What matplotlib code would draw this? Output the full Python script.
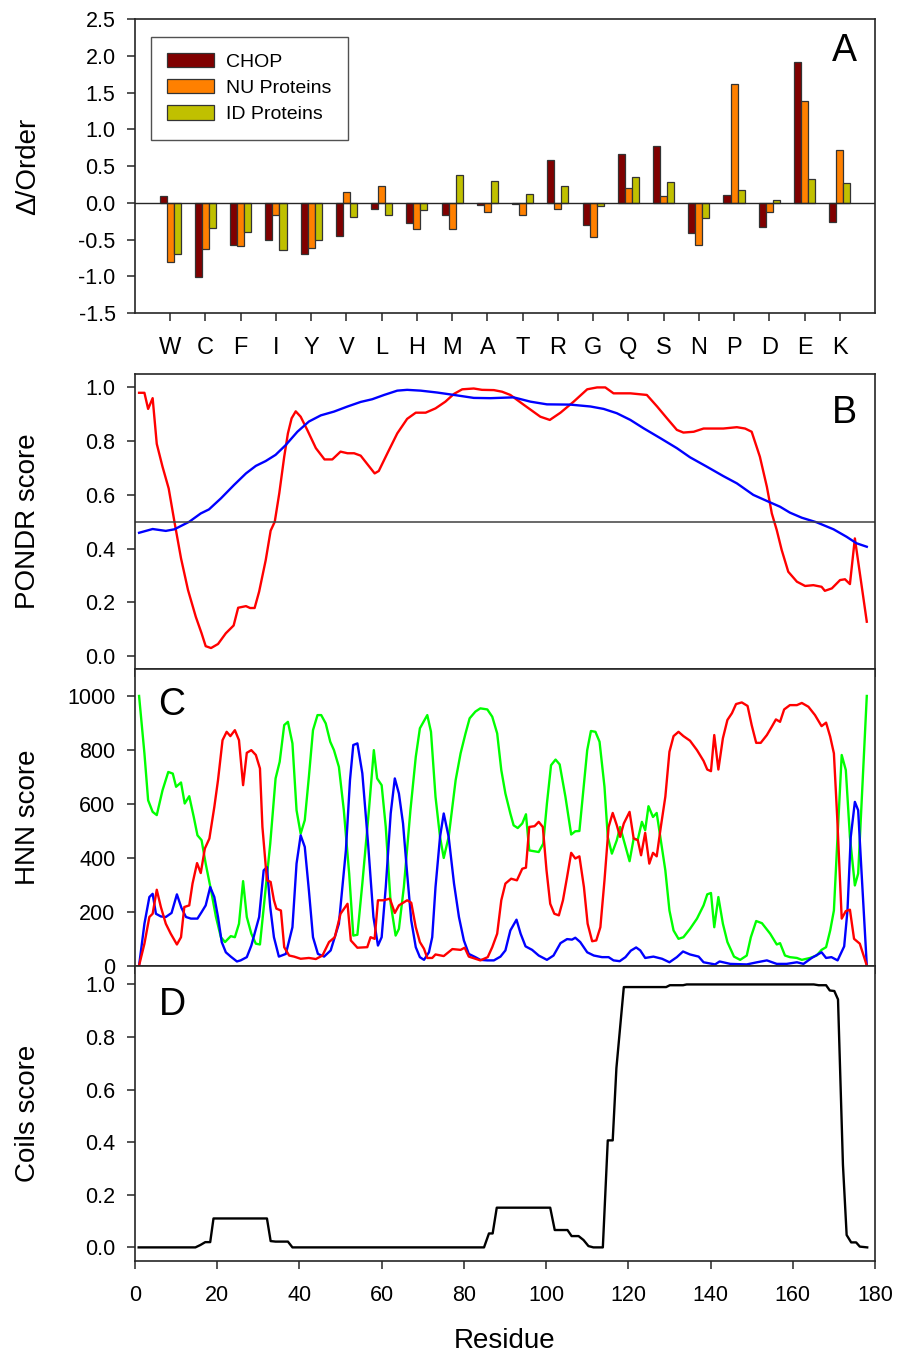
import numpy as np
from matplotlib import pyplot as plt


# Panel A: change in order propensity per amino acid
aminoAcids = ['W', 'C', 'F', 'I', 'Y', 'V', 'L', 'H', 'M', 'A',
              'T', 'R', 'G', 'Q', 'S', 'N', 'P', 'D', 'E', 'K']
chopValues = [0.09, -1.01, -0.57, -0.51, -0.70, -0.45, -0.08, -0.27, -0.17, -0.03,
              -0.01, 0.58, -0.30, 0.67, 0.77, -0.41, 0.10, -0.33, 1.91, -0.26]
nuValues = [-0.80, -0.63, -0.59, -0.17, -0.61, 0.14, 0.23, -0.36, -0.36, -0.13,
            -0.17, -0.09, -0.47, 0.20, 0.09, -0.57, 1.62, -0.13, 1.39, 0.72]
idValues = [-0.69, -0.34, -0.40, -0.64, -0.51, -0.19, -0.16, -0.10, 0.38, 0.29,
            0.12, 0.23, -0.05, 0.35, 0.28, -0.21, 0.17, 0.04, 0.33, 0.27]

# Panel B: PONDR scores
pondrRedRes = [1.0, 2.3, 3.2, 4.3, 5.3, 6.7, 8.2, 9.6, 11.2, 12.9, 14.8, 16.2, 17.2, 18.5, 20.2,
               22.1, 24.0, 25.1, 27.0, 28.0, 29.1, 30.2, 31.8, 33.0, 34.0, 35.1, 36.3, 37.2, 38.1,
               39.1, 40.3, 41.9, 44.0, 46.1, 48.0, 50.0, 51.7, 53.3, 54.9, 56.7, 58.3, 59.3, 61.4,
               63.8, 66.2, 68.3, 70.7, 73.1, 75.5, 77.6, 79.6, 82.4, 84.4, 87.3, 89.3, 91.3, 94.6,
               98.6, 100.9, 103.5, 106.7, 110.0, 112.4, 114.4, 116.4, 120.5, 124.5, 127.0, 129.4,
               131.8, 133.4, 135.9, 138.3, 143.1, 146.4, 148.4, 150.0, 152.0, 153.7, 154.9, 156.1,
               157.3, 158.9, 161.0, 163.0, 165.0, 167.0, 167.8, 169.5, 171.5, 172.7, 173.9, 175.1,
               178.0]
pondrRed = [0.98, 0.98, 0.92, 0.96, 0.79, 0.705, 0.624, 0.50, 0.364, 0.246, 0.146, 0.085, 0.037,
            0.03, 0.045, 0.085, 0.114, 0.18, 0.186, 0.179, 0.179, 0.24, 0.357, 0.467, 0.50, 0.606,
            0.742, 0.829, 0.885, 0.911, 0.891, 0.842, 0.774, 0.732, 0.732, 0.761, 0.755, 0.755,
            0.746, 0.711, 0.68, 0.689, 0.755, 0.829, 0.883, 0.906, 0.906, 0.922, 0.947, 0.976,
            0.993, 0.996, 0.991, 0.99, 0.984, 0.972, 0.935, 0.891, 0.879, 0.906, 0.947, 0.993, 1.0,
            1.0, 0.978, 0.978, 0.972, 0.929, 0.885, 0.842, 0.832, 0.835, 0.847, 0.847, 0.852,
            0.847, 0.835, 0.742, 0.63, 0.531, 0.469, 0.395, 0.314, 0.277, 0.261, 0.264, 0.258,
            0.243, 0.252, 0.283, 0.286, 0.268, 0.438, 0.128]
pondrBlueRes = [1.0, 4.3, 7.5, 9.6, 13.2, 16.0, 18.0, 20.9, 24.1, 27.0, 29.4, 31.8, 34.2, 36.7,
                39.5, 42.3, 45.2, 48.4, 51.7, 54.9, 57.7, 60.6, 63.8, 66.2, 69.5, 73.5, 77.6, 82.4,
                86.5, 92.1, 96.2, 100.2, 105.9, 110.8, 114.0, 117.2, 120.5, 123.7, 127.8, 131.8,
                135.0, 139.1, 143.1, 146.4, 150.4, 154.5, 156.9, 159.3, 162.2, 165.8, 169.9, 173.1,
                175.5, 178.0]
pondrBlue = [0.459, 0.473, 0.466, 0.472, 0.50, 0.531, 0.546, 0.587, 0.637, 0.68, 0.708, 0.726,
             0.749, 0.786, 0.835, 0.873, 0.896, 0.91, 0.929, 0.946, 0.956, 0.972, 0.988, 0.991,
             0.988, 0.981, 0.972, 0.961, 0.96, 0.963, 0.947, 0.937, 0.936, 0.929, 0.92, 0.904,
             0.879, 0.848, 0.811, 0.774, 0.74, 0.705, 0.67, 0.643, 0.60, 0.572, 0.556, 0.534,
             0.515, 0.498, 0.472, 0.444, 0.42, 0.407]

# Panel C: HNN secondary structure scores
hnnGreenRes = [1.0, 2.3, 3.2, 4.3, 5.3, 6.7, 8.1, 9.2, 10.0, 11.2, 12.1, 13.2, 14.3, 15.2, 16.2,
               17.2, 18.5, 19.7, 20.9, 21.9, 23.3, 24.3, 25.3, 26.3, 27.2, 28.3, 29.4, 30.4, 31.4,
               32.9, 34.2, 35.2, 36.3, 37.2, 38.3, 39.3, 40.3, 41.3, 42.3, 43.3, 44.4, 45.3, 46.4,
               47.5, 48.4, 49.6, 50.8, 52.1, 53.1, 54.1, 55.3, 56.9, 58.1, 58.9, 60.0, 61.0, 62.2,
               63.4, 64.2, 65.4, 67.0, 68.3, 69.3, 71.1, 72.0, 73.1, 74.2, 75.1, 76.3, 78.0, 79.2,
               80.4, 81.4, 82.8, 84.0, 85.7, 86.9, 88.1, 89.1, 90.1, 91.3, 92.1, 93.1, 94.2, 95.1,
               95.9, 98.2, 99.3, 100.2, 101.2, 102.3, 103.3, 104.7, 106.1, 107.1, 108.1, 109.2,
               110.0, 110.9, 112.0, 113.0, 114.2, 115.0, 116.0, 117.2, 118.0, 120.3, 121.3, 122.3,
               123.3, 124.1, 124.9, 126.0, 126.9, 127.9, 129.0, 130.0, 131.0, 132.2, 133.4, 135.0,
               136.7, 138.3, 139.2, 140.1, 140.9, 141.9, 143.0, 144.1, 145.7, 147.2, 148.8, 149.8,
               151.1, 152.5, 154.5, 156.1, 156.9, 158.1, 159.3, 161.0, 162.2, 164.2, 165.8, 167.0,
               168.1, 169.1, 170.0, 170.8, 171.9, 172.9, 173.9, 175.1, 175.9, 178.0]
hnnGreen = [1000, 787, 613, 570, 558, 650, 718, 712, 663, 679, 601, 628, 551, 483, 465, 378, 279,
            180, 105, 87, 109, 105, 155, 313, 180, 118, 81, 78, 229, 452, 694, 756, 892, 904, 824,
            576, 489, 539, 700, 873, 929, 929, 898, 830, 799, 737, 576, 341, 111, 114, 304, 576,
            799, 694, 669, 514, 229, 111, 136, 291, 576, 774, 880, 929, 867, 626, 477, 399, 477,
            688, 787, 861, 917, 942, 954, 950, 923, 861, 725, 638, 564, 520, 510, 527, 561, 427,
            421, 452, 601, 743, 764, 746, 626, 486, 498, 499, 675, 799, 870, 867, 830, 663, 477,
            415, 465, 514, 387, 471, 467, 533, 502, 591, 551, 566, 465, 353, 204, 130, 99, 105,
            136, 174, 223, 264, 269, 142, 254, 155, 87, 33, 21, 37, 105, 165, 157, 118, 78, 83,
            37, 31, 28, 21, 28, 37, 58, 68, 130, 204, 452, 781, 725, 477, 297, 341, 1000]
hnnRedRes = [1.0, 2.3, 3.5, 4.3, 5.3, 6.3, 7.5, 8.7, 10.2, 11.2, 12.0, 13.2, 14.0, 15.1, 16.0,
             17.0, 18.1, 19.3, 20.2, 21.3, 22.3, 23.2, 24.3, 25.3, 26.3, 27.2, 28.3, 29.4, 30.4,
             31.0, 32.1, 33.0, 33.8, 34.4, 35.5, 36.3, 37.5, 38.7, 40.3, 42.3, 44.0, 45.6, 47.2,
             48.6, 50.0, 51.7, 52.5, 54.1, 56.5, 57.3, 58.3, 59.1, 60.5, 62.0, 63.2, 64.2, 66.2,
             67.2, 68.3, 69.3, 70.3, 71.1, 72.3, 73.1, 75.1, 77.2, 79.2, 80.2, 81.2, 82.8, 84.0,
             85.8, 86.9, 88.1, 89.1, 90.1, 91.5, 92.9, 94.2, 95.1, 95.9, 97.2, 98.2, 99.2, 100.1,
             101.0, 102.0, 103.1, 104.1, 105.1, 106.1, 107.1, 108.1, 109.2, 110.1, 111.2, 112.2,
             113.2, 114.2, 115.2, 116.2, 117.2, 118.0, 118.9, 120.3, 121.3, 122.3, 123.1, 124.1,
             125.1, 126.0, 126.9, 127.9, 129.0, 130.0, 131.0, 132.2, 133.4, 135.0, 136.7, 138.3,
             139.2, 140.1, 140.9, 141.9, 143.0, 144.1, 145.2, 146.2, 147.6, 149.0, 150.0, 151.1,
             152.2, 153.7, 154.9, 155.9, 156.9, 157.9, 159.3, 161.0, 162.2, 163.8, 165.4, 167.0,
             168.1, 169.1, 170.0, 170.8, 171.9, 172.9, 173.9, 174.9, 176.3, 178.0]
hnnRed = [0, 81, 180, 192, 281, 217, 155, 118, 78, 105, 217, 223, 304, 380, 343, 434, 471, 588,
          688, 836, 867, 851, 873, 836, 669, 789, 799, 781, 731, 514, 316, 310, 242, 211, 204, 68,
          37, 33, 25, 28, 24, 37, 87, 105, 192, 229, 93, 66, 68, 105, 99, 242, 242, 248, 195, 223,
          242, 233, 142, 87, 62, 28, 28, 41, 35, 61, 58, 66, 33, 25, 19, 31, 68, 118, 242, 304,
          322, 316, 359, 363, 514, 517, 533, 514, 353, 229, 192, 186, 242, 328, 418, 397, 405,
          291, 155, 90, 93, 142, 316, 514, 566, 520, 477, 527, 570, 471, 465, 409, 492, 378, 418,
          405, 514, 626, 793, 851, 867, 851, 834, 799, 759, 727, 721, 855, 727, 843, 911, 936,
          970, 976, 963, 892, 826, 826, 855, 886, 913, 904, 950, 966, 966, 974, 960, 929, 888,
          901, 849, 787, 551, 174, 202, 207, 99, 81, 0]
hnnBlueRes = [1.0, 2.3, 3.5, 4.3, 5.1, 6.3, 7.5, 8.9, 10.2, 11.3, 12.4, 13.6, 15.2, 16.2, 17.2,
              18.3, 19.3, 20.2, 21.1, 22.1, 23.3, 24.8, 25.7, 27.2, 28.3, 30.2, 31.3, 32.1, 32.9,
              33.8, 35.0, 36.7, 38.3, 39.3, 40.3, 41.3, 42.3, 43.3, 44.5, 46.0, 47.6, 49.6, 51.3,
              52.3, 53.1, 54.1, 55.3, 56.7, 58.0, 59.1, 60.0, 61.0, 62.2, 63.2, 64.2, 65.2, 66.2,
              67.2, 68.3, 69.3, 70.3, 71.5, 72.3, 73.1, 74.2, 75.1, 76.3, 77.6, 78.8, 80.0, 81.2,
              82.8, 84.0, 85.7, 87.3, 88.9, 90.1, 91.3, 92.8, 93.8, 95.0, 96.6, 98.2, 100.2, 101.8,
              103.5, 105.1, 106.3, 107.1, 108.3, 110.0, 111.6, 113.6, 115.2, 116.4, 117.9, 119.3,
              120.6, 121.9, 122.9, 124.1, 126.1, 128.2, 130.0, 131.8, 133.3, 135.0, 137.1, 138.3,
              141.1, 142.2, 144.8, 148.8, 151.3, 153.7, 156.1, 158.5, 161.0, 162.6, 164.6, 167.0,
              168.1, 169.4, 170.9, 172.5, 173.3, 174.1, 175.1, 175.9, 176.7, 178.0]
hnnBlue = [0, 155, 254, 266, 192, 182, 180, 195, 264, 214, 180, 174, 174, 198, 223, 291, 254, 180,
           87, 49, 33, 15, 19, 31, 74, 180, 353, 365, 217, 105, 33, 43, 142, 378, 483, 440, 279,
           105, 43, 33, 56, 155, 427, 688, 818, 824, 713, 452, 180, 74, 105, 291, 564, 694, 638,
           527, 341, 167, 68, 31, 21, 49, 105, 291, 477, 564, 477, 304, 180, 93, 43, 31, 21, 19,
           19, 33, 56, 130, 170, 118, 71, 58, 37, 21, 37, 83, 98, 96, 103, 87, 49, 37, 31, 31,
           19, 16, 31, 55, 67, 56, 28, 33, 25, 12, 31, 52, 41, 33, 12, 4, 15, 6, 4, 12, 19, 6, 6,
           12, 6, 28, 49, 28, 31, 19, 71, 204, 477, 607, 576, 353, 0]

# Panel D: coiled coil score
coilsRes = [0.9, 14.7, 15.9, 17.1, 18.3, 19.1, 32.1, 33.0, 34.2, 37.2, 38.3, 84.9, 86.1, 87.0,
            88.0, 101.0, 102.1, 105.2, 106.2, 107.9, 109.1, 110.3, 111.5, 113.8, 115.0, 116.2,
            117.1, 118.9, 129.2, 130.1, 133.3, 134.2, 165.1, 166.3, 168.1, 169.0, 170.1, 171.0,
            172.2, 173.1, 174.2, 175.4, 176.3, 178.1]
coilsScore = [0, 0, 0.009, 0.02, 0.02, 0.11, 0.11, 0.024, 0.022, 0.022, 0, 0, 0.053, 0.053,
              0.151, 0.151, 0.066, 0.066, 0.043, 0.043, 0.028, 0.005, 0, 0, 0.407, 0.407, 0.682,
              0.99, 0.99, 0.997, 0.997, 1.0, 1.0, 0.997, 0.997, 0.977, 0.975, 0.943, 0.314, 0.047,
              0.019, 0.019, 0.003, 0]

plt.rcParams['font.family'] = ['Liberation Sans', 'DejaVu Sans']
spineColor = '#262626'
tickSize = 15.5
labelSize = 20
letterSize = 27


def styleAxes(ax):
    for spine in ax.spines.values():
        spine.set_color(spineColor)
        spine.set_linewidth(1.2)
    ax.tick_params(axis='both', direction='out', length=6, width=1.1, color=spineColor,
                   labelsize=tickSize, top=False, right=False)
    ax.tick_params(axis='y', pad=8)
    ax.tick_params(axis='x', pad=11)
    # label right edge sits around x=41px in the figure
    ax.yaxis.set_label_coords(-0.127, 0.5)


fig = plt.figure(figsize=(8.98, 13.57), dpi=100)
left, width = 0.1503, 0.8241

# ---- Panel A ----
axA = fig.add_axes([left, 0.7693, width, 0.2167])
x = np.arange(len(aminoAcids))
barW = 0.2
edge = dict(edgecolor='#333333', linewidth=0.9)
axA.bar(x - barW, chopValues, barW, color='#800000', label='CHOP', **edge)
axA.bar(x, nuValues, barW, color='#ff8000', label='NU Proteins', **edge)
axA.bar(x + barW, idValues, barW, color='#c0c000', label='ID Proteins', **edge)
axA.axhline(0, color=spineColor, linewidth=1.0)
axA.set_xlim(-1, 20)
axA.set_ylim(-1.5, 2.5)
axA.set_xticks(x)
axA.set_yticks(np.arange(-1.5, 2.51, 0.5))
axA.set_yticklabels(['%.1f' % v for v in np.arange(-1.5, 2.51, 0.5)])
axA.set_ylabel('\u0394/Order', fontsize=labelSize)
styleAxes(axA)
axA.set_xticklabels(aminoAcids, fontsize=17)
leg = axA.legend(loc='upper left', bbox_to_anchor=(0.0212, 0.94), borderaxespad=0,
                 fontsize=14, handlelength=2.4, handleheight=0.75, labelspacing=0.42,
                 handletextpad=0.65, borderpad=0.85, fancybox=False, frameon=True)
leg.get_frame().set_edgecolor(spineColor)
leg.get_frame().set_linewidth(1.0)
axA.text(0.959, 0.89, 'A', transform=axA.transAxes, fontsize=letterSize, ha='center', va='center')

# ---- Panel B ----
axB = fig.add_axes([left, 0.5070, width, 0.2174])
axB.plot(pondrRedRes, pondrRed, color='#ff0000', linewidth=1.7)
axB.plot(pondrBlueRes, pondrBlue, color='#0000ff', linewidth=1.7)
axB.axhline(0.5, color='#404040', linewidth=1.1)
axB.set_xlim(0, 180)
axB.set_ylim(-0.048, 1.05)
axB.set_xticks(np.arange(0, 181, 20))
axB.set_xticklabels([])
axB.set_yticks(np.arange(0, 1.01, 0.2))
axB.set_yticklabels(['%.1f' % v for v in np.arange(0, 1.01, 0.2)])
axB.set_ylabel('PONDR score', fontsize=labelSize)
styleAxes(axB)
axB.text(0.959, 0.868, 'B', transform=axB.transAxes, fontsize=letterSize, ha='center', va='center')

# ---- Panel C ----
axC = fig.add_axes([left, 0.2885, width, 0.2185])
axC.plot(hnnGreenRes, hnnGreen, color='#00ff00', linewidth=1.7)
axC.plot(hnnBlueRes, hnnBlue, color='#0000ff', linewidth=1.7)
axC.plot(hnnRedRes, hnnRed, color='#ff0000', linewidth=1.7)
axC.set_xlim(0, 180)
axC.set_ylim(0, 1100)
axC.set_xticks(np.arange(0, 181, 20))
axC.set_xticklabels([])
axC.set_yticks(np.arange(0, 1001, 200))
axC.set_ylabel('HNN score', fontsize=labelSize)
styleAxes(axC)
axC.text(0.05, 0.879, 'C', transform=axC.transAxes, fontsize=letterSize, ha='center', va='center')

# ---- Panel D ----
axD = fig.add_axes([left, 0.0707, width, 0.2178])
axD.plot(coilsRes, coilsScore, color='black', linewidth=1.7)
axD.set_xlim(0, 180)
axD.set_ylim(-0.052, 1.072)
axD.set_xticks(np.arange(0, 181, 20))
axD.set_yticks(np.arange(0, 1.01, 0.2))
axD.set_yticklabels(['%.1f' % v for v in np.arange(0, 1.01, 0.2)])
axD.set_ylabel('Coils score', fontsize=labelSize)
axD.set_xlabel('Residue', fontsize=labelSize, labelpad=16)
styleAxes(axD)
axD.text(0.05, 0.866, 'D', transform=axD.transAxes, fontsize=letterSize, ha='center', va='center')

fig.savefig('out.png', dpi=100)
